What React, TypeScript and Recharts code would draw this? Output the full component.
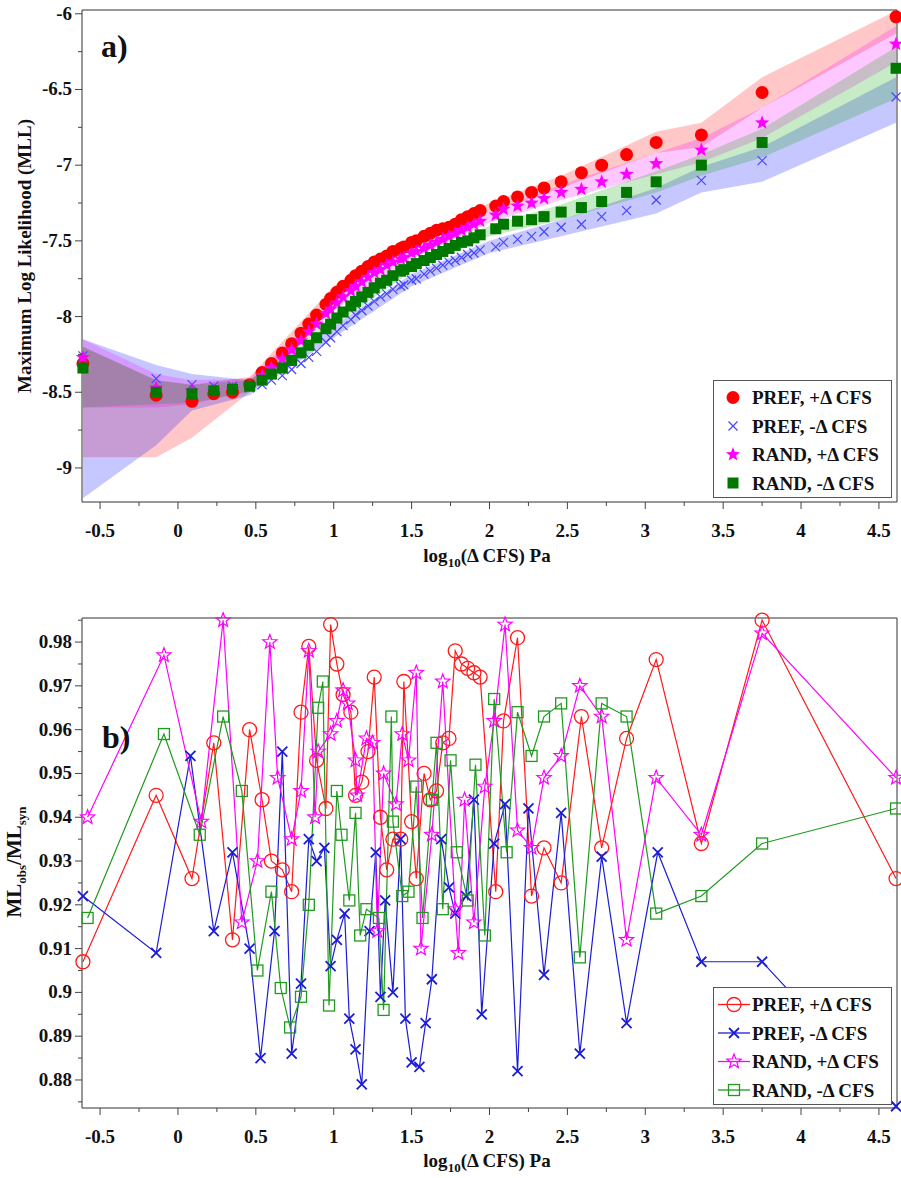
import React from 'react';
import { ComposedChart, Scatter, Area, Line, XAxis, YAxis, CartesianGrid, Legend } from 'recharts';

const FONT = '"Liberation Serif", "DejaVu Serif", serif';
const AXIS_C = '#444';
const GRID_C = '#d6d6d6';

// shared x positions, log10(ΔCFS)
const cfsX = [-0.61, -0.14, 0.09, 0.23, 0.35, 0.46, 0.54, 0.60, 0.67, 0.73, 0.79, 0.84, 0.89, 0.95, 0.98, 1.02, 1.06, 1.11, 1.14, 1.18, 1.22, 1.26, 1.30, 1.34, 1.38, 1.43, 1.45, 1.50, 1.53, 1.58, 1.62, 1.66, 1.70, 1.74, 1.78, 1.82, 1.86, 1.90, 1.94, 2.04, 2.09, 2.18, 2.27, 2.35, 2.46, 2.59, 2.72, 2.88, 3.07, 3.36, 3.75, 4.61];

// panel a) maximum log likelihood
const mllPrefPos = [-8.31, -8.52, -8.56, -8.51, -8.50, -8.45, -8.37, -8.31, -8.24, -8.18, -8.11, -8.05, -7.99, -7.92, -7.88, -7.84, -7.80, -7.76, -7.73, -7.70, -7.67, -7.64, -7.62, -7.60, -7.57, -7.55, -7.54, -7.51, -7.50, -7.47, -7.45, -7.43, -7.42, -7.41, -7.39, -7.36, -7.34, -7.32, -7.30, -7.27, -7.24, -7.21, -7.18, -7.15, -7.11, -7.05, -7.00, -6.93, -6.85, -6.80, -6.52, -6.02];
const mllPrefNeg = [-8.26, -8.41, -8.45, -8.46, -8.46, -8.47, -8.45, -8.42, -8.39, -8.35, -8.31, -8.27, -8.23, -8.17, -8.14, -8.10, -8.06, -8.02, -7.99, -7.96, -7.93, -7.90, -7.87, -7.85, -7.82, -7.80, -7.79, -7.76, -7.75, -7.72, -7.70, -7.68, -7.66, -7.64, -7.63, -7.61, -7.59, -7.58, -7.56, -7.54, -7.51, -7.49, -7.47, -7.44, -7.41, -7.39, -7.34, -7.30, -7.23, -7.10, -6.97, -6.55];
const mllRandPos = [-8.27, -8.47, -8.49, -8.49, -8.48, -8.46, -8.39, -8.34, -8.28, -8.22, -8.16, -8.10, -8.05, -7.98, -7.95, -7.91, -7.87, -7.83, -7.80, -7.77, -7.74, -7.71, -7.69, -7.66, -7.64, -7.62, -7.61, -7.58, -7.57, -7.55, -7.53, -7.51, -7.49, -7.47, -7.45, -7.43, -7.41, -7.39, -7.37, -7.33, -7.29, -7.27, -7.25, -7.22, -7.18, -7.16, -7.11, -7.06, -6.99, -6.90, -6.72, -6.20];
const mllRandNeg = [-8.34, -8.50, -8.51, -8.49, -8.48, -8.46, -8.42, -8.38, -8.34, -8.29, -8.24, -8.19, -8.14, -8.08, -8.05, -8.01, -7.97, -7.93, -7.90, -7.87, -7.84, -7.81, -7.78, -7.76, -7.73, -7.70, -7.69, -7.67, -7.65, -7.63, -7.61, -7.59, -7.57, -7.55, -7.53, -7.51, -7.50, -7.48, -7.46, -7.42, -7.39, -7.37, -7.36, -7.34, -7.31, -7.28, -7.24, -7.18, -7.11, -7.00, -6.85, -6.36];

// shaded uncertainty bands
const bandX = [-0.61, -0.14, 0.09, 0.46, 1.0, 1.5, 2.0, 2.46, 3.07, 3.36, 3.75, 4.61];
const bandPrefPosLo = [-8.93, -8.93, -8.80, -8.50, -7.88, -7.54, -7.31, -7.15, -6.92, -6.88, -6.62, -6.13];
const bandPrefPosHi = [-8.20, -8.42, -8.45, -8.40, -7.80, -7.48, -7.25, -7.07, -6.78, -6.72, -6.42, -5.98];
const bandPrefNegLo = [-9.20, -8.85, -8.62, -8.52, -8.14, -7.80, -7.58, -7.47, -7.32, -7.18, -7.11, -6.72];
const bandPrefNegHi = [-8.15, -8.32, -8.38, -8.42, -8.06, -7.72, -7.50, -7.36, -7.15, -7.01, -6.88, -6.42];
const bandRandPosLo = [-8.60, -8.60, -8.58, -8.49, -7.96, -7.62, -7.38, -7.23, -7.06, -6.98, -6.82, -6.32];
const bandRandPosHi = [-8.15, -8.38, -8.42, -8.41, -7.89, -7.55, -7.31, -7.13, -6.92, -6.82, -6.62, -6.08];
const bandRandNegLo = [-8.60, -8.58, -8.57, -8.50, -8.06, -7.70, -7.47, -7.36, -7.18, -7.07, -6.95, -6.56];
const bandRandNegHi = [-8.20, -8.42, -8.45, -8.42, -7.98, -7.63, -7.40, -7.26, -7.04, -6.93, -6.76, -6.22];

// panel b) ML_obs / ML_syn
const ratioPrefPos = [0.907, 0.945, 0.926, 0.957, 0.912, 0.960, 0.944, 0.930, 0.928, 0.923, 0.964, 0.979, 0.953, 0.942, 0.984, 0.975, 0.968, 0.964, 0.945, 0.948, 0.955, 0.972, 0.940, 0.928, 0.935, 0.935, 0.971, 0.939, 0.926, 0.950, 0.944, 0.946, 0.957, 0.958, 0.978, 0.975, 0.974, 0.973, 0.972, 0.923, 0.962, 0.981, 0.922, 0.933, 0.925, 0.963, 0.933, 0.958, 0.976, 0.934, 0.985, 0.926];

const prefNegX = [-0.61, -0.14, 0.08, 0.23, 0.35, 0.46, 0.53, 0.62, 0.67, 0.73, 0.79, 0.84, 0.89, 0.94, 0.98, 1.02, 1.07, 1.10, 1.14, 1.18, 1.23, 1.27, 1.30, 1.33, 1.38, 1.43, 1.46, 1.50, 1.55, 1.59, 1.63, 1.69, 1.74, 1.78, 1.85, 1.90, 1.95, 2.03, 2.10, 2.18, 2.25, 2.35, 2.46, 2.58, 2.72, 2.88, 3.08, 3.36, 3.75, 4.61];
const ratioPrefNeg = [0.922, 0.909, 0.954, 0.914, 0.932, 0.910, 0.885, 0.914, 0.955, 0.886, 0.902, 0.935, 0.930, 0.933, 0.906, 0.912, 0.918, 0.894, 0.887, 0.879, 0.914, 0.932, 0.899, 0.921, 0.900, 0.935, 0.894, 0.884, 0.883, 0.893, 0.903, 0.935, 0.924, 0.918, 0.922, 0.944, 0.895, 0.934, 0.943, 0.882, 0.942, 0.904, 0.941, 0.886, 0.931, 0.893, 0.932, 0.907, 0.907, 0.874];

const randPosX = [-0.58, -0.09, 0.15, 0.29, 0.41, 0.51, 0.59, 0.64, 0.73, 0.79, 0.84, 0.88, 0.90, 0.98, 1.02, 1.06, 1.09, 1.14, 1.15, 1.21, 1.25, 1.28, 1.32, 1.40, 1.44, 1.48, 1.53, 1.56, 1.63, 1.70, 1.78, 1.80, 1.84, 1.90, 1.97, 2.03, 2.10, 2.18, 2.27, 2.35, 2.46, 2.58, 2.72, 2.88, 3.07, 3.36, 3.75, 4.61];
const ratioRandPos = [0.940, 0.977, 0.939, 0.985, 0.916, 0.930, 0.980, 0.949, 0.935, 0.946, 0.978, 0.940, 0.955, 0.959, 0.962, 0.969, 0.966, 0.953, 0.945, 0.958, 0.957, 0.914, 0.950, 0.943, 0.959, 0.953, 0.973, 0.910, 0.936, 0.971, 0.919, 0.909, 0.944, 0.916, 0.947, 0.962, 0.984, 0.937, 0.933, 0.949, 0.954, 0.970, 0.963, 0.912, 0.949, 0.936, 0.982, 0.949];

const randNegX = [-0.58, -0.09, 0.14, 0.29, 0.41, 0.51, 0.60, 0.66, 0.72, 0.79, 0.84, 0.90, 0.93, 0.97, 1.02, 1.05, 1.10, 1.14, 1.17, 1.21, 1.29, 1.32, 1.37, 1.38, 1.44, 1.48, 1.53, 1.57, 1.63, 1.66, 1.70, 1.75, 1.79, 1.86, 1.91, 1.97, 2.03, 2.11, 2.18, 2.27, 2.35, 2.46, 2.58, 2.72, 2.88, 3.07, 3.36, 3.75, 4.61];
const ratioRandNeg = [0.917, 0.959, 0.936, 0.963, 0.946, 0.905, 0.923, 0.901, 0.892, 0.899, 0.920, 0.965, 0.971, 0.897, 0.946, 0.936, 0.921, 0.941, 0.913, 0.919, 0.917, 0.896, 0.963, 0.939, 0.922, 0.923, 0.947, 0.917, 0.944, 0.957, 0.919, 0.953, 0.932, 0.921, 0.952, 0.913, 0.967, 0.932, 0.964, 0.954, 0.963, 0.966, 0.908, 0.966, 0.963, 0.918, 0.922, 0.934, 0.942];

// axes
const xDomain: [number, number] = [-0.616, 4.616];
const xMajor = [-0.5, 0, 0.5, 1, 1.5, 2, 2.5, 3, 3.5, 4, 4.5];
const xMinor = [-0.25, 0.25, 0.75, 1.25, 1.75, 2.25, 2.75, 3.25, 3.75, 4.25];
const yDomainA: [number, number] = [-9.225, -5.975];
const yMajorA = [-9, -8.5, -8, -7.5, -7, -6.5, -6];
const yMinorA = [-8.75, -8.25, -7.75, -7.25, -6.75, -6.25];
const yDomainB: [number, number] = [0.8736, 0.9855];
const yMajorB = [0.88, 0.89, 0.9, 0.91, 0.92, 0.93, 0.94, 0.95, 0.96, 0.97, 0.98];
const yMinorB = [0.875, 0.885, 0.895, 0.905, 0.915, 0.925, 0.935, 0.945, 0.955, 0.965, 0.975, 0.985];

const seriesNames = ['PREF, +Δ CFS', 'PREF, -Δ CFS', 'RAND, +Δ CFS', 'RAND, -Δ CFS'];

const pairs = (xs: number[], ys: number[]) => xs.map((x, i) => ({ x, y: ys[i] }));
const bands = (lo: number[], hi: number[]) => bandX.map((x, i) => ({ x, range: [lo[i], hi[i]] }));

const fmt = (v: number) => String(Number(v.toFixed(3)));
const tickFont: React.CSSProperties = { fontFamily: FONT, fontWeight: 700, fontSize: 19 };

const starPath = (cx: number, cy: number, R: number) => {
  let d = '';
  for (let i = 0; i < 10; i++) {
    const a = -Math.PI / 2 + (i * Math.PI) / 5;
    const rr = i % 2 === 0 ? R : R * 0.42;
    d += (i ? 'L' : 'M') + (cx + rr * Math.cos(a)).toFixed(2) + ',' + (cy + rr * Math.sin(a)).toFixed(2);
  }
  return d + 'Z';
};
const crossPath = (cx: number, cy: number, h: number) =>
  `M${cx - h},${cy - h}L${cx + h},${cy + h}M${cx - h},${cy + h}L${cx + h},${cy - h}`;

// filled markers (panel a)
const markA = [
  (cx: number, cy: number) => <circle cx={cx} cy={cy} r={6.5} fill="#ff0000" />,
  (cx: number, cy: number) => <path d={crossPath(cx, cy, 4.5)} stroke="#4646ff" strokeWidth={1.2} fill="none" />,
  (cx: number, cy: number) => <path d={starPath(cx, cy, 7.5)} fill="#ff00ff" />,
  (cx: number, cy: number) => <rect x={cx - 5.5} y={cy - 5.5} width={11} height={11} fill="#007800" />,
];
// open markers (panel b)
const colorsB = ['#ff1a1a', '#1c1cd6', '#ff00ff', '#1f9a1f'];
const markB = [
  (cx: number, cy: number) => <circle cx={cx} cy={cy} r={7} fill="none" stroke={colorsB[0]} strokeWidth={1.3} />,
  (cx: number, cy: number) => <path d={crossPath(cx, cy, 5)} stroke={colorsB[1]} strokeWidth={1.8} fill="none" />,
  (cx: number, cy: number) => <path d={starPath(cx, cy, 7.5)} fill="none" stroke={colorsB[2]} strokeWidth={1.2} />,
  (cx: number, cy: number) => <rect x={cx - 5.5} y={cy - 5.5} width={11} height={11} fill="none" stroke={colorsB[3]} strokeWidth={1.3} />,
];

// tick renderers: major ticks longer and labelled, minor ticks short
const bottomTick = (p: any) => {
  const v = p.payload.value;
  const major = xMajor.includes(v);
  return (
    <g>
      <line x1={p.x} y1={p.y} x2={p.x} y2={p.y + (major ? 7 : 4)} stroke={AXIS_C} />
      {major && (
        <text x={p.x} y={p.y + 35} textAnchor="middle" style={tickFont} fill="#111">
          {fmt(v)}
        </text>
      )}
    </g>
  );
};
const topTick = (p: any) => {
  const major = xMajor.includes(p.payload.value);
  return <line x1={p.x} y1={p.y} x2={p.x} y2={p.y - (major ? 7 : 4)} stroke={AXIS_C} />;
};
const leftTick = (majors: number[]) => (p: any) => {
  const v = p.payload.value;
  const major = majors.includes(v);
  return (
    <g>
      <line x1={p.x} y1={p.y} x2={p.x - (major ? 7 : 4)} y2={p.y} stroke={AXIS_C} />
      {major && (
        <text x={p.x - 10} y={p.y + 6} textAnchor="end" style={tickFont} fill="#111">
          {fmt(v)}
        </text>
      )}
    </g>
  );
};
const rightTick = (majors: number[]) => (p: any) => {
  const major = majors.includes(p.payload.value);
  return <line x1={p.x} y1={p.y} x2={p.x + (major ? 4 : 2)} y2={p.y} stroke={AXIS_C} />;
};

const axisCommon = { type: 'number' as const, tickSize: 0, tickMargin: 0, tickLine: false, interval: 0 as const };

const Frame = (yDomain: [number, number], yMajor: number[], yMinor: number[]) => [
  <XAxis key="xb" xAxisId={0} dataKey="x" {...axisCommon} domain={xDomain} ticks={[...xMajor, ...xMinor]} height={1} tick={bottomTick} axisLine={{ stroke: AXIS_C }} />,
  <XAxis key="xt" xAxisId="t" dataKey="x" orientation="top" {...axisCommon} domain={xDomain} ticks={[...xMajor, ...xMinor]} height={1} tick={topTick} axisLine={{ stroke: AXIS_C }} />,
  <XAxis key="xg" xAxisId="g" dataKey="x" type="number" domain={xDomain} ticks={xMajor} hide />,
  <YAxis key="yl" yAxisId={0} {...axisCommon} domain={yDomain} ticks={[...yMajor, ...yMinor]} width={1} tick={leftTick(yMajor)} axisLine={{ stroke: AXIS_C }} />,
  <YAxis key="yr" yAxisId="r" orientation="right" {...axisCommon} domain={yDomain} ticks={[...yMajor, ...yMinor]} width={1} tick={rightTick(yMajor)} axisLine={{ stroke: AXIS_C }} />,
  <YAxis key="yg" yAxisId="g" type="number" domain={yDomain} ticks={yMajor} hide />,
  <CartesianGrid key="grid" xAxisId="g" yAxisId="g" stroke={GRID_C} />,
];

const LegendBox = ({ withLine }: { withLine: boolean }) => (
  <svg width={179} height={118} style={{ display: 'block' }}>
    <rect x={0.5} y={0.5} width={178} height={117} fill="#fff" stroke="#555" />
    {seriesNames.map((name, i) => {
      const cy = 17.5 + i * 28.5;
      return (
        <g key={name}>
          {withLine && <line x1={5} y1={cy} x2={37} y2={cy} stroke={colorsB[i]} strokeWidth={1.3} />}
          {withLine ? markB[i](21, cy) : markA[i](20, cy)}
          <text x={39} y={cy + 6.5} style={{ fontFamily: FONT, fontWeight: 700, fontSize: 19 }} fill="#111">
            {name}
          </text>
        </g>
      );
    })}
  </svg>
);

const mllSeries = [mllPrefPos, mllPrefNeg, mllRandPos, mllRandNeg];
const bandSeries = [
  bands(bandPrefPosLo, bandPrefPosHi),
  bands(bandPrefNegLo, bandPrefNegHi),
  bands(bandRandPosLo, bandRandPosHi),
  bands(bandRandNegLo, bandRandNegHi),
];
const bandFill = ['#ff0000', '#0000ff', '#ff00ff', '#00a000'];
const ratioSeries = [
  pairs(cfsX, ratioPrefPos),
  pairs(prefNegX, ratioPrefNeg),
  pairs(randPosX, ratioRandPos),
  pairs(randNegX, ratioRandNeg),
];

const XLabel = ({ y }: { y: number }) => (
  <text x={487} y={y} textAnchor="middle" style={{ fontFamily: FONT, fontWeight: 700, fontSize: 19 }} fill="#111">
    log<tspan fontSize={13} dy={5}>10</tspan>
    <tspan dy={-5}>(Δ CFS) Pa</tspan>
  </text>
);

export default function App() {
  return (
    <div style={{ position: 'relative', width: 901, height: 1178, background: '#fff' }}>
      <style>{'body{margin:0}'}</style>
      <div style={{ position: 'absolute', left: 0, top: 0 }}>
        <ComposedChart width={901} height={590} margin={{ top: 9, right: 3, bottom: 87, left: 81 }}>
          {Frame(yDomainA, yMajorA, yMinorA)}
          {bandSeries.map((d, i) => (
            <Area key={`band${i}`} data={d} dataKey="range" type="linear" stroke="none" fill={bandFill[i]} fillOpacity={0.22} legendType="none" isAnimationActive={false} activeDot={false} />
          ))}
          {mllSeries.map((ys, i) => (
            <Scatter
              key={`mll${i}`}
              name={seriesNames[i]}
              data={pairs(cfsX, ys)}
              dataKey="y"
              isAnimationActive={false}
              shape={(p: any) => markA[i](p.cx, p.cy)}
            />
          ))}
          <Legend layout="vertical" align="center" verticalAlign="middle" wrapperStyle={{ left: 713, top: 380, width: 179, height: 118 }} content={() => <LegendBox withLine={false} />} />
        </ComposedChart>
      </div>
      <div style={{ position: 'absolute', left: 0, top: 590 }}>
        <ComposedChart width={901} height={588} margin={{ top: 27, right: 3, bottom: 69, left: 81 }}>
          {Frame(yDomainB, yMajorB, yMinorB)}
          {ratioSeries.map((d, i) => (
            <Line
              key={`ratio${i}`}
              name={seriesNames[i]}
              data={d}
              dataKey="y"
              type="linear"
              stroke={colorsB[i]}
              strokeWidth={1.2}
              isAnimationActive={false}
              activeDot={false}
              dot={(p: any) => <g key={`d${i}-${p.index}`}>{markB[i](p.cx, p.cy)}</g>}
            />
          ))}
          <Legend layout="vertical" align="center" verticalAlign="middle" wrapperStyle={{ left: 713, top: 397, width: 179, height: 118 }} content={() => <LegendBox withLine={true} />} />
        </ComposedChart>
      </div>
      <svg width={901} height={1178} style={{ position: 'absolute', left: 0, top: 0, pointerEvents: 'none' }}>
        <text x={101} y={57} style={{ fontFamily: FONT, fontWeight: 700, fontSize: 32 }} fill="#111">a)</text>
        <text x={102} y={748} style={{ fontFamily: FONT, fontWeight: 700, fontSize: 32 }} fill="#111">b)</text>
        <text transform="translate(31,256) rotate(-90)" textAnchor="middle" style={{ fontFamily: FONT, fontWeight: 700, fontSize: 19 }} fill="#111">
          Maximum Log Likelihood (MLL)
        </text>
        <text transform="translate(21,862) rotate(-90)" textAnchor="middle" style={{ fontFamily: FONT, fontWeight: 700, fontSize: 21 }} fill="#111">
          ML<tspan fontSize={13} dy={5}>obs</tspan>
          <tspan dy={-5}>/ML</tspan>
          <tspan fontSize={13} dy={5}>syn</tspan>
        </text>
        <XLabel y={562} />
        <XLabel y={1167} />
      </svg>
    </div>
  );
}
